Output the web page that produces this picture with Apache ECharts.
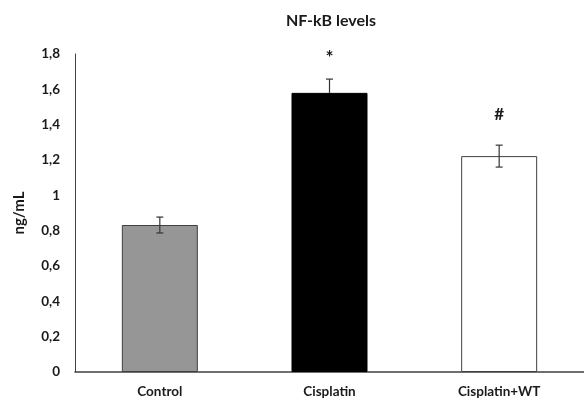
<!DOCTYPE html>
<html><head><meta charset="utf-8">
<script src="https://cdn.jsdelivr.net/npm/echarts@6/dist/echarts.min.js"></script>
<style>html,body{margin:0;padding:0;background:#fff}#c{width:584px;height:401px}</style>
</head><body><div id="c"></div>
<script>
const categories = ['Control', 'Cisplatin', 'Cisplatin+WT'];
const values = [0.832, 1.58, 1.222];
const errors = [0.045, 0.078, 0.062];
const marks = ['', '*', '#'];
const yTicks = [0, 0.2, 0.4, 0.6, 0.8, 1, 1.2, 1.4, 1.6, 1.8];

const fills = ['#969696', '#000000', '#ffffff'];
const markDist = [0, 12, 22];
const font = 'Lato, "Open Sans", sans-serif';

const chart = echarts.init(document.getElementById('c'));
chart.setOption({
  animation: false,
  backgroundColor: '#fff',
  title: {
    text: 'NF-kB levels', left: 326, top: 8, textAlign: 'center',
    textStyle: { fontFamily: font, fontWeight: 'bold', fontSize: 16, color: '#1a1a1a' }
  },
  grid: { left: 75, right: -4, top: 54, bottom: 29 },
  xAxis: {
    type: 'category', data: categories,
    axisLine: { lineStyle: { color: '#404040', width: 1.5 } },
    axisTick: { show: false },
    axisLabel: { fontFamily: font, fontWeight: 'bold', fontSize: 13.5, color: '#1a1a1a', margin: 13 }
  },
  yAxis: {
    type: 'value', min: 0, max: 1.8, interval: 0.2,
    name: 'ng/mL', nameLocation: 'middle', nameGap: 48, nameRotate: 90,
    nameTextStyle: { fontFamily: font, fontWeight: 'bold', fontSize: 15, color: '#1a1a1a' },
    axisLine: { show: true, lineStyle: { color: '#404040', width: 1 } },
    axisTick: { show: false },
    splitLine: { show: false },
    axisLabel: {
      fontFamily: font, fontWeight: 'bold', fontSize: 13.5, color: '#1a1a1a', margin: 15,
      formatter: v => {
        const t = yTicks.find(x => Math.abs(x - v) < 1e-6);
        return String(t !== undefined ? t : v).replace('.', ',');
      }
    }
  },
  series: [
    {
      type: 'bar', barWidth: 76,
      data: values.map((v, i) => ({
        value: v,
        itemStyle: { color: fills[i], borderColor: i === 1 ? '#000' : '#404040', borderWidth: 1 }
      })),
      z: 2
    },
    {
      type: 'custom', z: 3,
      data: values.map((v, i) => [i, v, errors[i]]),
      renderItem: (params, api) => {
        const i = api.value(0), v = api.value(1), e = api.value(2);
        const top = api.coord([i, v + e]);
        const mid = api.coord([i, v]);
        const bot = api.coord([i, v - e]);
        const x = top[0], hw = 3.5;
        const inner = i === 1 ? '#000' : '#333';
        const children = [
          { type: 'line', shape: { x1: x, y1: top[1], x2: x, y2: mid[1] }, style: { stroke: '#333', lineWidth: 1.2 } },
          { type: 'line', shape: { x1: x, y1: mid[1], x2: x, y2: bot[1] }, style: { stroke: inner, lineWidth: 1.2 } },
          { type: 'line', shape: { x1: x - hw, y1: top[1], x2: x + hw, y2: top[1] }, style: { stroke: '#333', lineWidth: 1.2 } },
          { type: 'line', shape: { x1: x - hw, y1: bot[1], x2: x + hw, y2: bot[1] }, style: { stroke: inner, lineWidth: 1.2 } }
        ];
        if (marks[i]) {
          children.push({
            type: 'text',
            style: {
              text: marks[i], x: x, y: top[1] - markDist[i], align: 'center', verticalAlign: 'bottom',
              font: 'bold ' + (marks[i] === '*' ? 19 : 17) + 'px ' + font, fill: '#1a1a1a'
            }
          });
        }
        return { type: 'group', children };
      }
    }
  ]
});
</script></body></html>
